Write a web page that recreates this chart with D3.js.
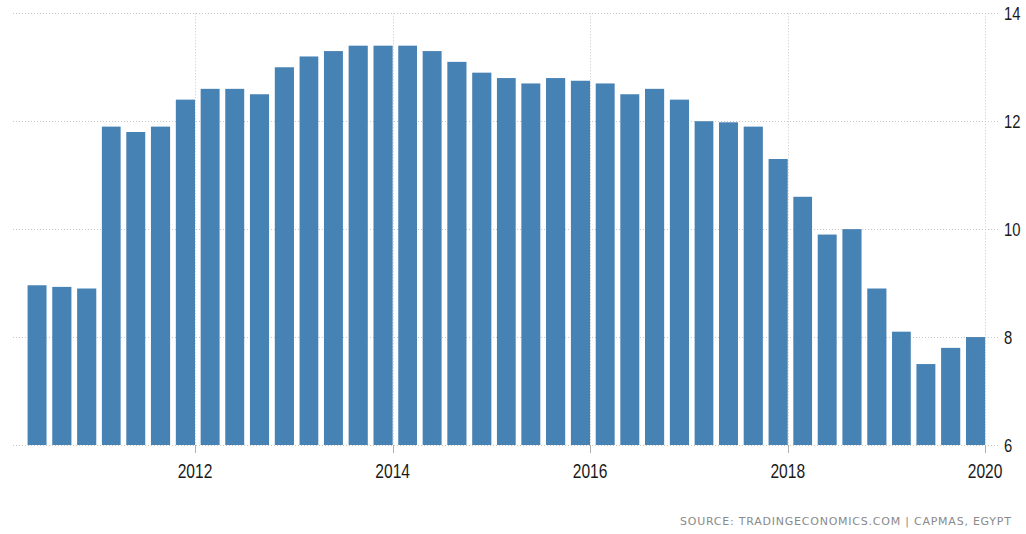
<!DOCTYPE html>
<html>
<head>
<meta charset="utf-8">
<script src="https://cdn.jsdelivr.net/npm/d3@7"></script>
<style>
  html, body { margin: 0; padding: 0; background: #ffffff; }
  svg { display: block; }
</style>
</head>
<body>
<svg id="chart" width="1026" height="534"></svg>
<script>
// ---- Data ----
const quarters = [
  "2010Q2","2010Q3","2010Q4",
  "2011Q1","2011Q2","2011Q3","2011Q4",
  "2012Q1","2012Q2","2012Q3","2012Q4",
  "2013Q1","2013Q2","2013Q3","2013Q4",
  "2014Q1","2014Q2","2014Q3","2014Q4",
  "2015Q1","2015Q2","2015Q3","2015Q4",
  "2016Q1","2016Q2","2016Q3","2016Q4",
  "2017Q1","2017Q2","2017Q3","2017Q4",
  "2018Q1","2018Q2","2018Q3","2018Q4",
  "2019Q1","2019Q2","2019Q3","2019Q4"
];
const unemploymentRate = [
  8.96, 8.93, 8.9,
  11.9, 11.8, 11.9, 12.4,
  12.6, 12.6, 12.5, 13.0,
  13.2, 13.3, 13.4, 13.4,
  13.4, 13.3, 13.1, 12.9,
  12.8, 12.7, 12.8, 12.75,
  12.7, 12.5, 12.6, 12.4,
  12.0, 11.98, 11.9, 11.3,
  10.6, 9.9, 10.0, 8.9,
  8.1, 7.5, 7.8, 8.0
];
const yTicks = [6, 8, 10, 12, 14];
const xTickYears = [2012, 2014, 2016, 2018, 2020];
const sourceText = "SOURCE: TRADINGECONOMICS.COM | CAPMAS, EGYPT";

// ---- Layout ----
const svg = d3.select("#chart");
const plotLeft = 13, plotRight = 1000, plotTop = 13.3, plotBottom = 445;
const barColor = "#4682b4";
const gridColor = "#c8c8c8";

function quarterStart(q) {
  const yr = +q.slice(0, 4), n = +q.slice(5);
  return new Date(Date.UTC(yr, (n - 1) * 3, 1));
}
function quarterEnd(q) {
  const yr = +q.slice(0, 4), n = +q.slice(5);
  return new Date(Date.UTC(yr, n * 3, 1));
}

const x = d3.scaleUtc()
  .domain([new Date(Date.UTC(2010, 1, 27)), new Date(Date.UTC(2020, 1, 25))])
  .range([plotLeft, plotRight]);
const y = d3.scaleLinear().domain([6, 14]).range([plotBottom, plotTop]);

const data = quarters.map((q, i) => ({ q, v: unemploymentRate[i], s: quarterStart(q), e: quarterEnd(q) }));

// horizontal grid
svg.append("g").selectAll("line").data(yTicks).join("line")
  .attr("x1", plotLeft).attr("x2", plotRight)
  .attr("y1", d => Math.round(y(d)) + 0.5).attr("y2", d => Math.round(y(d)) + 0.5)
  .attr("stroke", gridColor).attr("stroke-width", 1)
  .attr("stroke-dasharray", "1,2");

// vertical grid
const xTickDates = xTickYears.map(yr => new Date(Date.UTC(yr, 0, 1)));
svg.append("g").selectAll("line").data(xTickDates).join("line")
  .attr("x1", d => Math.round(x(d)) + 0.5).attr("x2", d => Math.round(x(d)) + 0.5)
  .attr("y1", plotTop).attr("y2", plotBottom)
  .attr("stroke", gridColor).attr("stroke-width", 1)
  .attr("stroke-dasharray", "1,2");

// bars
svg.append("g").selectAll("rect").data(data).join("rect")
  .attr("x", d => { const p = x(d.e) - x(d.s); return x(d.e) - p * 0.77; })
  .attr("width", d => (x(d.e) - x(d.s)) * 0.77)
  .attr("y", d => y(d.v))
  .attr("height", d => y(6) - y(d.v))
  .attr("fill", barColor);

// x tick marks
svg.append("g").selectAll("line").data(xTickDates).join("line")
  .attr("x1", d => Math.round(x(d)) + 0.5).attr("x2", d => Math.round(x(d)) + 0.5)
  .attr("y1", plotBottom).attr("y2", plotBottom + 8)
  .attr("stroke", "#b0b0b0").attr("stroke-width", 1);

const labelFont = "'Liberation Sans', Arial, sans-serif";
const squeeze = 0.78;

// x labels
svg.append("g").selectAll("text").data(xTickDates).join("text")
  .attr("transform", d => `translate(${x(d)},478) scale(${squeeze},1)`)
  .attr("text-anchor", "middle")
  .attr("font-family", labelFont)
  .attr("font-size", 20)
  .attr("fill", "#1a1a1a")
  .text(d => d.getUTCFullYear());

// y labels
svg.append("g").selectAll("text").data(yTicks).join("text")
  .attr("transform", d => `translate(1004,${y(d) + 7}) scale(${squeeze},1)`)
  .attr("text-anchor", "start")
  .attr("font-family", labelFont)
  .attr("font-size", 19)
  .attr("fill", "#1a1a1a")
  .text(d => d);

// source
svg.append("text")
  .attr("x", 680).attr("y", 525)
  .attr("font-family", "'DejaVu Sans', Verdana, sans-serif")
  .attr("font-size", 11)
  .attr("fill", "#8a8a8a")
  .attr("textLength", 331)
  .attr("lengthAdjust", "spacing")
  .text(sourceText);
</script>
</body>
</html>
